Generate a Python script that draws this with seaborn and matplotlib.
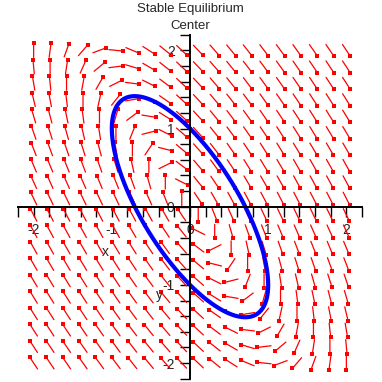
import numpy as np
import pandas as pd
import seaborn as sns
import matplotlib
matplotlib.use('Agg')
import matplotlib.pyplot as plt

# linear system  x' = a*x + b*y ,  y' = c*x + d*y  (read from the slope field)
a, b = 1.0, 1.0
c, d = -2.0, -1.0
# start point of the blue orbit
x0, y0 = 0.0, 1.0

# field sample points (20 x 20 between -2 and 2) and arrow length
grid_x = np.linspace(-2, 2, 20)
grid_y = np.linspace(-2, 2, 20)
arrow_len = 0.18

major_ticks = [-2, -1, 0, 1, 2]
tick_labels = ['-2', '-1', '0', '1', '2']
title_lines = ['Stable Equilibrium', 'Center']

sns.set_style('white')
plt.rcParams['font.family'] = ['Liberation Sans', 'DejaVu Sans']

fig = plt.figure(figsize=(3.82, 3.82), dpi=100)
ax = fig.add_axes([18/382, 3.3/382, 344/382, 344/382])

# direction field, all arrows same length, centred on grid point
X, Y = np.meshgrid(grid_x, grid_y)
U = a*X + b*Y
V = c*X + d*Y
n = np.hypot(U, V)
n[n == 0] = 1
U = U / n * arrow_len / 2
V = V / n * arrow_len / 2

tx, ty = (X - U).ravel(), (Y - V).ravel()
hx, hy = (X + U).ravel(), (Y + V).ravel()
nan = np.full_like(tx, np.nan)
seg_x = np.column_stack([tx, hx, nan]).ravel()
seg_y = np.column_stack([ty, hy, nan]).ravel()
ax.plot(seg_x, seg_y, color='red', lw=0.9, zorder=2)

heads = pd.DataFrame({'hx': hx, 'hy': hy})
sns.scatterplot(data=heads, x='hx', y='hy', marker='s', s=9, color='red',
                linewidth=0, ax=ax, zorder=3)

# orbit through (x0, y0): A^2 = -I so exp(At) = cos t I + sin t A
t = np.linspace(0, 2*np.pi, 400)
orbit = pd.DataFrame({
    'x': np.cos(t)*x0 + np.sin(t)*(a*x0 + b*y0),
    'y': np.cos(t)*y0 + np.sin(t)*(c*x0 + d*y0),
})
sns.lineplot(data=orbit, x='x', y='y', sort=False, estimator=None,
             color='blue', lw=3, ax=ax, zorder=4)

ax.set_xlim(-2.2, 2.2)
ax.set_ylim(-2.2, 2.2)
ax.set_xlabel('')
ax.set_ylabel('')
for s in ['top', 'right']:
    ax.spines[s].set_visible(False)
for s in ['left', 'bottom']:
    ax.spines[s].set_position(('data', 0))
    ax.spines[s].set_color('black')
    ax.spines[s].set_linewidth(1.4)
    ax.spines[s].set_zorder(5)

minor = np.round(np.arange(-2.2, 2.21, 0.2), 1)
ax.set_xticks(major_ticks)
ax.set_xticklabels(tick_labels)
ax.set_yticks(major_ticks)
ax.set_yticklabels(tick_labels)
ax.set_xticks(minor, minor=True)
ax.set_yticks(minor, minor=True)
ax.tick_params(which='both', direction='out', length=7, width=1, color='black',
               bottom=True, left=True)
ax.tick_params(axis='x', labelsize=10, pad=5)
ax.tick_params(axis='y', labelsize=10, pad=4)
ax.grid(False)

fig.text(190/382, 1 - 9/382, title_lines[0], ha='center', va='center', fontsize=9.5)
fig.text(190/382, 1 - 26/382, title_lines[1], ha='center', va='center', fontsize=9.5)
fig.text(105/382, 1 - 252/382, 'x', ha='center', va='center', fontsize=10)
fig.text(159/382, 1 - 295/382, 'y', ha='center', va='center', fontsize=10)

fig.savefig('out.png', dpi=100)
